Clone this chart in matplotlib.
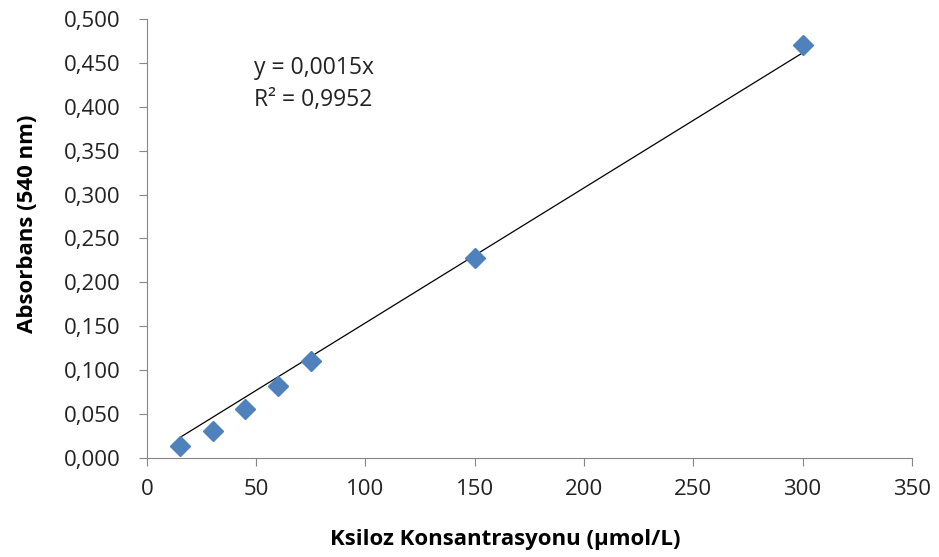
import matplotlib.pyplot as plt
import numpy as np

# calibration points
konsantrasyon = [15, 30, 45, 60, 75, 150, 300]
absorbans = [0.013, 0.031, 0.056, 0.082, 0.110, 0.228, 0.470]

x_ticks = [0, 50, 100, 150, 200, 250, 300, 350]
y_ticks = [0.0, 0.05, 0.10, 0.15, 0.20, 0.25, 0.30, 0.35, 0.40, 0.45, 0.50]

plt.rcParams['font.family'] = ['Open Sans', 'DejaVu Sans']

x = np.array(konsantrasyon)
y = np.array(absorbans)
# trendline forced through zero
slope = np.sum(x * y) / np.sum(x * x)

fig = plt.figure(figsize=(9.39, 5.57), dpi=100)
ax = fig.add_axes([0.1565, 0.178, 0.8145, 0.788])

ax.plot([x.min(), x.max()], [slope * x.min(), slope * x.max()], color='black', lw=0.9)
ax.plot(x, y, linestyle='none', marker='D', markersize=10.5, color='#4F81BD',
        markeredgecolor='#4F81BD')

ax.set_xlim(0, 350)
ax.set_ylim(0, 0.5)
ax.set_xticks(x_ticks)
ax.set_yticks(y_ticks)
ax.set_yticklabels([f'{v:.3f}'.replace('.', ',') for v in y_ticks])

for s in ['top', 'right']:
    ax.spines[s].set_visible(False)
for s in ['left', 'bottom']:
    ax.spines[s].set_color('#868686')
ax.tick_params(direction='out', length=6, color='#868686', labelsize=16,
               labelcolor='#222222')
ax.tick_params(axis='y', pad=13)
ax.tick_params(axis='x', pad=9)

ax.set_xlabel('Ksiloz Konsantrasyonu (µmol/L)', fontsize=16, fontweight='bold')
ax.set_ylabel('Absorbans (540 nm)', fontsize=16, fontweight='bold')
ax.xaxis.set_label_coords(0.468, -0.162)
ax.yaxis.set_label_coords(-0.143, 0.533)

ax.text(49, 0.426, 'y = 0,0015x\nR² = 0,9952', fontsize=16.5, linespacing=1.45, va='center',
        color='#222222')

fig.savefig('out.png', dpi=100)
